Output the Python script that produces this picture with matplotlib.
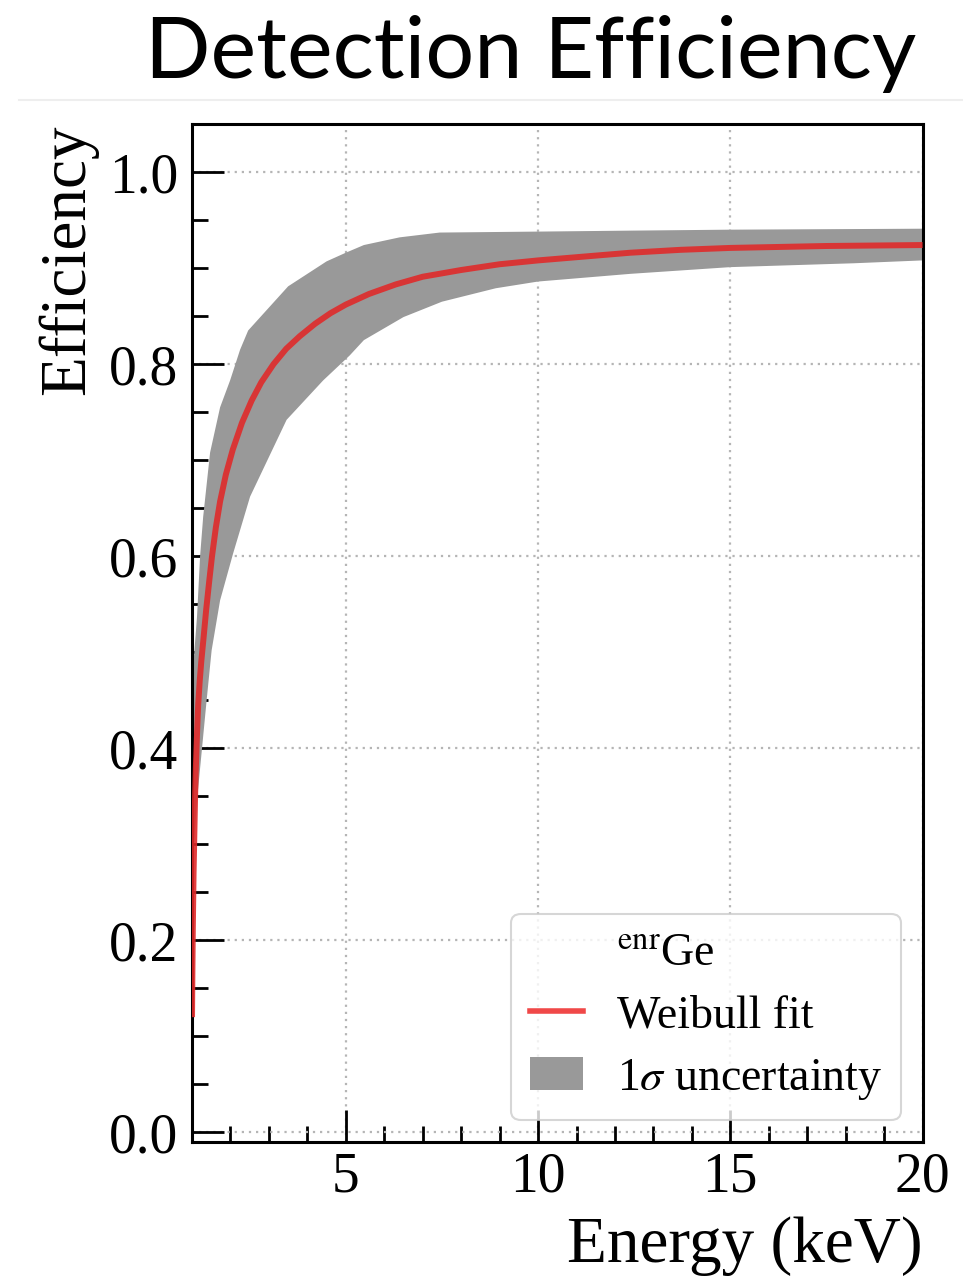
import matplotlib
matplotlib.use("Agg")
import matplotlib.pyplot as plt
from matplotlib.lines import Line2D
from matplotlib.patches import Patch
from matplotlib.ticker import MultipleLocator
import numpy as np

# Weibull fit to the enrGe efficiency (energy in keV)
fit_energy = [1.0, 1.01, 1.02, 1.04, 1.06, 1.08, 1.1, 1.13, 1.16, 1.2, 1.24, 1.3,
              1.37, 1.45, 1.52, 1.62, 1.73, 1.88, 2.06, 2.3, 2.55, 2.8, 3.12, 3.45,
              3.8, 4.2, 4.6, 5.0, 5.6, 6.3, 7.0, 8.0, 9.0, 10.0, 11.2, 12.4, 13.7,
              15.0, 17.5, 20.0]
fit_eff = [0.12, 0.17, 0.21, 0.27, 0.31, 0.35, 0.38, 0.415, 0.445, 0.47, 0.49, 0.515,
           0.545, 0.575, 0.600, 0.630, 0.657, 0.685, 0.711, 0.739, 0.762, 0.781, 0.800,
           0.816, 0.829, 0.842, 0.853, 0.862, 0.873, 0.883, 0.891, 0.898, 0.904, 0.908,
           0.912, 0.916, 0.919, 0.921, 0.923, 0.924]

# 1 sigma band edges
upper_energy = [1.0, 1.03, 1.13, 1.21, 1.29, 1.47, 1.73, 1.99, 2.25, 2.46, 3.5,
                4.5, 5.0, 5.47, 6.4, 7.44, 10.0, 12.4, 15.0, 20.0]
upper_eff = [0.47, 0.485, 0.537, 0.60, 0.641, 0.708, 0.755, 0.783, 0.815, 0.835, 0.881,
             0.907, 0.916, 0.924, 0.932, 0.937, 0.938, 0.939, 0.940, 0.941]
lower_energy = [1.0, 1.05, 1.13, 1.26, 1.38, 1.51, 1.73, 2.07, 2.51, 3.46, 4.41,
                5.1, 5.47, 6.5, 7.5, 8.9, 10.0, 12.4, 15.0, 18.2, 20.0]
lower_eff = [0.10, 0.30, 0.346, 0.40, 0.45, 0.502, 0.554, 0.603, 0.662, 0.742, 0.783,
             0.809, 0.825, 0.849, 0.865, 0.879, 0.886, 0.894, 0.901, 0.905, 0.908]

plt.rcParams["font.family"] = ["Liberation Serif", "DejaVu Serif"]
plt.rcParams["mathtext.fontset"] = "stix"

fig = plt.figure(figsize=(9.63, 12.8), dpi=100)
ax = fig.add_axes([0.1994, 0.1078, 0.958 - 0.1994, 0.9031 - 0.1078])

band_x = np.concatenate([upper_energy, lower_energy[::-1]])
band_y = np.concatenate([upper_eff, lower_eff[::-1]])
ax.fill(band_x, band_y, color="#999999", lw=0, zorder=2)
ax.plot(fit_energy, fit_eff, color="#e02a2a", lw=4.3, alpha=0.9, zorder=3,
        solid_capstyle="butt", solid_joinstyle="round")

ax.set_xlim(1, 20)
ax.set_ylim(-0.01, 1.05)
ax.set_xticks([5, 10, 15, 20])
ax.xaxis.set_minor_locator(MultipleLocator(1))
ax.yaxis.set_major_locator(MultipleLocator(0.2))
ax.yaxis.set_minor_locator(MultipleLocator(0.05))
ax.set_yticklabels([f"{v:.1f}" for v in ax.get_yticks()])

ax.tick_params(which="both", direction="in", width=2, labelsize=40,
               top=False, right=False)
ax.tick_params(axis="x", pad=7)
ax.tick_params(axis="y", pad=10)
ax.tick_params(which="major", length=23)
ax.tick_params(which="minor", length=11.5)
for sp in ax.spines.values():
    sp.set_linewidth(2.2)

ax.grid(which="major", linestyle=(0, (1, 2.2)), color="#b5b5b5", lw=1.6, zorder=0)
ax.set_axisbelow(True)

ax.set_xlabel("Energy (keV)", fontsize=47, loc="right", labelpad=9)
ax.set_ylabel("Efficiency", fontsize=47, loc="top", labelpad=8)

handles = [Line2D([], [], linestyle="none"),
           Line2D([], [], color="#f04848", lw=4),
           Patch(facecolor="#999999", edgecolor="none")]
labels = [r"$^{\mathrm{enr}}$Ge", "Weibull fit", r"1$\sigma$ uncertainty"]
leg = ax.legend(handles, labels, loc="lower right", bbox_to_anchor=(0.97, 0.0216),
                borderaxespad=0, fontsize=33, handlelength=1.15, handleheight=0.75,
                handletextpad=0.75, borderpad=0.4, labelspacing=0.42,
                frameon=True, fancybox=True, framealpha=0.8, edgecolor="#cccccc")
leg.get_frame().set_linewidth(1.5)

fig.add_artist(Line2D([0.02, 1.0], [1 - 100 / 1280, 1 - 100 / 1280],
                      color="#eeeeee", lw=1.5))
fig.text(0.551, 1 - 78 / 1280, "Detection Efficiency", family=["Lato", "DejaVu Sans"],
         fontsize=62, ha="center", va="baseline")

fig.savefig("out.png", dpi=100)
